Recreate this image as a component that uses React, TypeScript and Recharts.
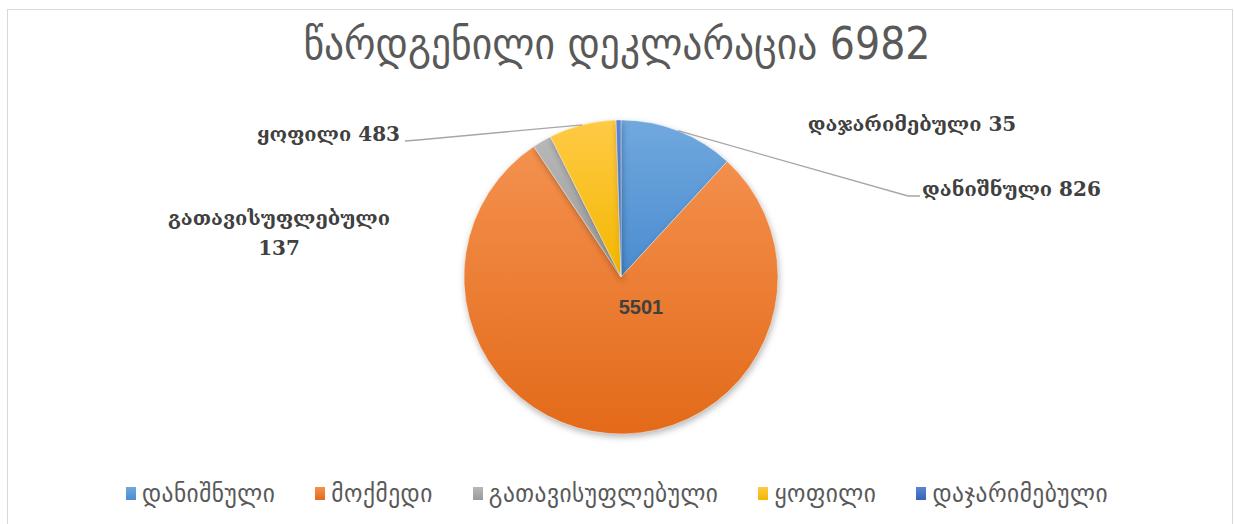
import React from "react";
import { PieChart, Pie, Cell, Legend } from "recharts";

const categories = ["დანიშნული", "მოქმედი", "გათავისუფლებული", "ყოფილი", "დაჯარიმებული"];
const values = [826, 5501, 137, 483, 35];
const TITLE = "წარდგენილი დეკლარაცია 6982";

const TOP = ["#71A8DE", "#F4914F", "#B8B8B8", "#FFCA45", "#5A86D4"];
const BOTTOM = ["#4A8CD0", "#E36A19", "#9A9A9A", "#F2B700", "#3963B5"];

const data = categories.map((name, i) => ({ name, value: values[i] }));

const RAD = Math.PI / 180;

// label placement relative to the pie centre (Excel moved these by hand)
const LABEL_POS = [
  { x: 301, y: -88, anchor: "start", elbow: [287, -81], end: [299, -81] },
  { x: 20, y: 30, anchor: "middle" },
  { x: -342, y: -59, anchor: "middle", split: true },
  { x: -221, y: -143, anchor: "end", elbow: [-203, -137], end: [-216, -136] },
  { x: 291, y: -153, anchor: "middle" },
];

const renderLabel = (props: any) => {
  const { cx, cy, midAngle, outerRadius, index, name, value } = props;
  const p = LABEL_POS[index];
  const ex = cx + outerRadius * Math.cos(-midAngle * RAD);
  const ey = cy + outerRadius * Math.sin(-midAngle * RAD);
  const tx = cx + p.x;
  const ty = cy + p.y;
  const inside = index === 1;
  const style = {
    fontFamily: inside ? "'Liberation Sans', sans-serif" : "'DejaVu Serif', serif",
    fontWeight: 700,
    fontSize: 20,
    fill: "#404040",
  };
  return (
    <g key={`lbl-${index}`}>
      {p.elbow && (
        <polyline
          points={`${ex},${ey} ${cx + p.elbow[0]},${cy + p.elbow[1]} ${cx + p.end![0]},${cy + p.end![1]}`}
          fill="none"
          stroke="#A6A6A6"
          strokeWidth={1.3}
        />
      )}
      {p.split ? (
        <text x={tx} y={ty} textAnchor="middle" dominantBaseline="central" style={style}>
          <tspan x={tx} dy={0}>{name}</tspan>
          <tspan x={tx} dy={30}>{value}</tspan>
        </text>
      ) : (
        <text x={tx} y={ty} textAnchor={p.anchor as any} dominantBaseline="central" style={style}>
          {inside ? value : `${name} ${value}`}
        </text>
      )}
    </g>
  );
};

const renderLegend = () => (
  <div
    style={{
      display: "flex",
      justifyContent: "center",
      alignItems: "center",
      fontFamily: "'DejaVu Sans Condensed', 'DejaVu Sans', sans-serif",
      fontSize: 26,
      letterSpacing: 0.5,
      color: "#595959",
    }}
  >
    {categories.map((c, i) => (
      <div key={c} style={{ display: "flex", alignItems: "center", marginRight: i < categories.length - 1 ? 40 : 0 }}>
        <span
          style={{
            display: "inline-block",
            width: 10,
            height: 13,
            marginRight: 6,
            background: `linear-gradient(${TOP[i]}, ${BOTTOM[i]})`,
          }}
        />
        <span>{c}</span>
      </div>
    ))}
  </div>
);

export default function App() {
  return (
    <div style={{ position: "relative", width: 1234, height: 524, background: "#fff", overflow: "hidden" }}>
      <style>{`body{margin:0;overflow:hidden} .recharts-pie-sector path{filter:drop-shadow(1px 3px 3px rgba(0,0,0,0.28))}`}</style>
      <div
        style={{
          position: "absolute",
          left: 7,
          top: 9,
          width: 1224,
          height: 530,
          borderTop: "1px solid #D9D9D9",
          borderLeft: "1px solid #D9D9D9",
          borderRight: "1px solid #D9D9D9",
        }}
      />
      <div
        style={{
          position: "absolute",
          top: 18,
          left: 0,
          width: 1234,
          textAlign: "center",
          fontFamily: "'DejaVu Sans Condensed', 'DejaVu Sans', sans-serif",
          fontSize: 44,
          color: "#595959",
        }}
      >
        {TITLE}
      </div>
      <div style={{ position: "absolute", left: 0, top: 0 }}>
        <PieChart width={1234} height={524} margin={{ top: 0, right: 0, bottom: 0, left: 0 }}>
          <defs>
            {TOP.map((c, i) => (
              <linearGradient key={i} id={`slice-${i}`} x1="0" y1="0" x2="0" y2="1">
                <stop offset="0%" stopColor={c} />
                <stop offset="100%" stopColor={BOTTOM[i]} />
              </linearGradient>
            ))}
          </defs>
          <Pie
            data={data}
            dataKey="value"
            nameKey="name"
            cx={621}
            cy={277}
            outerRadius={157}
            startAngle={90}
            endAngle={-270}
            label={renderLabel}
            labelLine={false}
            isAnimationActive={false}
          >
            {data.map((_, i) => (
              <Cell key={i} fill={`url(#slice-${i})`} stroke="#ffffff" strokeWidth={0.6} strokeOpacity={0.7} />
            ))}
          </Pie>
          <Legend verticalAlign="bottom" content={renderLegend} wrapperStyle={{ bottom: 16 }} />
        </PieChart>
      </div>
    </div>
  );
}
